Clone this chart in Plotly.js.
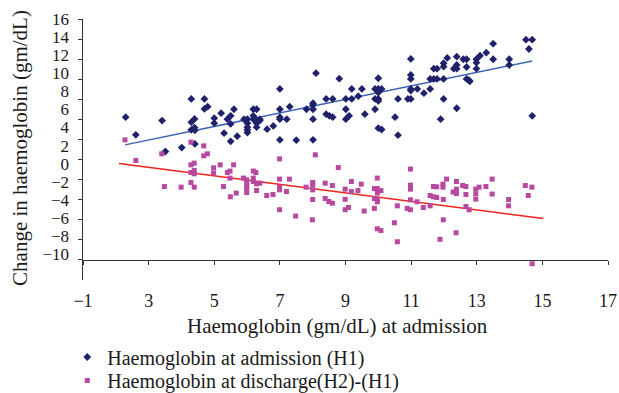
<!DOCTYPE html>
<html>
<head>
<meta charset="utf-8">
<script src="https://cdn.plot.ly/plotly-3.0.1.min.js"></script>
<style>html,body{margin:0;padding:0;background:#fff;}</style>
</head>
<body>
<div id="chart" style="width:619px;height:393px;"></div>
<script>
// Haemoglobin at admission (H1): x = Hb at admission, y = H1
const h1X = [2.30,2.61,3.41,3.51,4.01,4.30,4.30,4.30,4.40,4.40,4.41,4.41,4.70,4.70,4.80,5.00,5.00,5.21,5.30,5.40,
  5.50,5.50,5.50,5.60,5.70,5.91,6.01,6.01,6.01,6.01,6.01,6.19,6.29,6.19,6.19,6.29,6.39,6.29,6.29,6.39,
  6.61,6.80,7.00,7.00,7.00,7.00,7.00,7.21,7.30,7.50,7.81,8.01,8.01,8.01,8.01,8.01,8.10,8.41,8.41,8.51,
  8.61,8.61,8.81,9.01,9.01,9.01,9.11,9.19,9.19,9.39,9.50,9.59,9.90,9.90,9.90,10.00,10.00,10.00,10.00,10.00,
  10.00,10.10,10.10,10.51,10.60,10.60,10.90,10.99,10.99,10.99,10.99,10.99,10.99,11.19,11.39,11.58,11.58,11.69,11.69,11.79,
  11.79,11.90,11.99,11.99,11.99,11.99,12.10,12.30,12.39,12.39,12.39,12.39,12.59,12.69,12.69,12.69,12.76,12.79,12.99,12.99,
  12.99,13.10,13.29,13.50,13.50,13.99,13.99,14.50,14.69,14.59,14.69];
const h1Y = [6.22,4.46,5.88,2.80,3.19,8.04,5.72,4.96,6.05,5.18,4.91,3.56,8.04,7.04,7.27,6.12,5.62,6.62,4.63,6.02,
  6.35,5.55,3.81,7.01,4.33,6.02,6.02,5.62,5.22,4.96,4.69,7.01,7.01,6.35,6.02,5.95,6.02,5.62,5.22,5.88,
  5.02,5.35,9.03,7.01,6.22,6.02,3.96,6.02,7.27,3.93,7.01,7.61,7.44,7.01,6.02,3.96,10.60,8.04,6.52,6.35,
  8.04,6.22,10.06,8.04,7.01,6.02,6.35,9.03,8.04,8.31,9.03,6.52,9.03,8.04,7.01,10.10,9.03,8.67,8.04,7.84,
  5.12,9.03,4.99,6.22,8.04,4.43,8.04,12.02,10.43,10.03,9.03,8.87,8.04,9.03,8.61,10.03,9.03,11.05,10.03,11.05,
  10.03,6.02,11.59,11.25,10.03,8.04,12.12,11.05,12.25,11.42,11.05,7.11,11.99,11.99,11.22,10.03,9.90,9.80,11.99,11.65,
  11.05,12.35,12.65,13.54,11.99,11.99,11.42,13.94,13.94,13.01,6.35];

// Haemoglobin at discharge (H2) - (H1)
const dX = [2.28,2.61,3.40,3.48,3.99,4.29,4.29,4.29,4.29,4.39,4.39,4.39,4.39,4.68,4.68,4.79,4.98,4.98,5.18,5.28,
  5.40,5.48,5.48,5.49,5.59,5.67,5.89,5.99,5.99,5.99,5.99,5.99,6.19,6.27,6.19,6.19,6.29,6.29,6.39,6.60,
  6.79,6.99,6.99,6.99,6.99,6.99,7.20,7.29,7.48,7.80,8.00,8.00,8.00,8.00,7.99,8.08,8.38,8.38,8.49,8.60,
  8.60,8.78,8.99,8.99,8.99,9.09,9.18,9.18,9.38,9.48,9.57,9.88,9.88,9.88,9.97,9.97,9.97,9.97,9.97,9.97,
  10.08,10.08,10.49,10.58,10.58,10.88,10.98,10.98,10.98,10.98,10.98,11.18,11.37,11.58,11.58,11.68,11.78,11.68,11.78,11.88,
  11.97,11.97,11.98,11.98,12.08,12.28,12.38,12.38,12.38,12.37,12.57,12.67,12.67,12.67,12.77,12.97,12.97,12.97,13.07,13.28,
  13.47,13.47,13.97,13.97,14.48,14.57,14.68,14.69];
const dY = [3.96,1.90,2.57,-0.69,-0.75,3.73,1.47,0.71,-0.29,1.64,0.91,0.58,-0.75,3.36,2.37,2.57,1.17,0.65,1.47,-0.69,
  0.71,0.85,0.15,-1.71,1.47,-1.34,0.15,-0.02,-0.35,-0.69,-1.02,-1.29,0.85,0.71,0.15,-0.19,-0.42,-1.09,-0.35,-1.58,
  -1.48,2.07,0.05,-0.75,-1.02,-3.00,-1.19,0.05,-3.63,-0.75,-0.29,-0.55,-1.02,-1.98,-4.00,2.47,-0.35,-1.88,-2.18,-0.59,
  -2.35,1.20,-0.95,-1.96,-3.00,-2.78,-0.19,-1.19,-1.09,-0.45,-3.13,-0.89,-1.88,-2.87,0.15,-0.89,-1.34,-2.01,-2.21,-4.90,
  -1.09,-5.07,-4.30,-2.61,-6.19,-2.87,1.05,-0.55,-0.95,-2.01,-3.00,-2.21,-2.78,-1.58,-2.61,-0.69,-0.72,-1.71,-1.78,-5.95,
  -0.45,-0.75,-1.98,-4.00,0.05,-1.24,-0.19,-0.95,-1.39,-5.29,-0.59,-0.69,-1.48,-2.68,-3.00,-0.95,-1.41,-1.94,-0.75,-0.69,
  0.05,-1.44,-1.98,-2.61,-0.59,-1.58,-0.75,-8.38];

// Linear trend lines (end points)
const trendH1X = [2.28, 14.69];
const trendH1Y = [3.46, 11.82];
const trendDX = [2.10, 15.03];
const trendDY = [1.60, -3.87];

// Axis tick values and labels
const xTickVals = [1, 3, 5, 7, 9, 11, 13, 15, 17];
const xTickText = ['\u22121', '3', '5', '7', '9', '11', '13', '15', '17'];
const yTickVals = [-8, -6, -4, -2, 0, 2, 4, 6, 8, 10, 12, 14, 16];
const yLabelVals = [16, 14, 12, 10, 8, 6, 4, 2, 0, -2, -4, -6, -8, -10];
const yLabelText = yLabelVals.map(v => v < 0 ? '\u2212' + Math.abs(v) : String(v));

const seriesNames = ['Haemoglobin at admission (H1)', 'Haemoglobin at discharge(H2)-(H1)'];
const xTitle = 'Haemoglobin (gm/dL) at admission';
const yTitle = 'Change in haemoglobin (gm/dL)';

const FONT = 'Liberation Serif, Times New Roman, serif';
const TXT = '#1a1a1a';
const navy = '#20216b';
const magenta = '#b8499f';

const traces = [
  {x: trendH1X, y: trendH1Y, mode: 'lines', line: {color: '#3c62b4', width: 1.5}, showlegend: false, hoverinfo: 'skip'},
  {x: trendDX, y: trendDY, mode: 'lines', line: {color: '#f2221c', width: 1.5}, showlegend: false, hoverinfo: 'skip'},
  {x: h1X, y: h1Y, mode: 'markers', name: seriesNames[0], legend: 'legend',
   marker: {symbol: 'diamond', size: 6, color: navy}},
  {x: dX, y: dY, mode: 'markers', name: seriesNames[1], legend: 'legend2',
   marker: {symbol: 'square', size: 5, color: magenta}},
  {x: [], y: [], yaxis: 'y2', mode: 'markers', showlegend: false, hoverinfo: 'skip'}
];

const legendBase = {
  xanchor: 'left', yanchor: 'middle',
  font: {family: FONT, size: 20, color: TXT},
  bgcolor: 'rgba(0,0,0,0)', itemsizing: 'trace'
};

const layout = {
  width: 619, height: 393,
  margin: {l: 83, r: 11, t: 19, b: 113, autoexpand: false},
  paper_bgcolor: '#ffffff', plot_bgcolor: '#ffffff',
  font: {family: FONT, color: TXT, size: 17},
  showlegend: true,
  xaxis: {
    range: [1, 17], anchor: 'free', position: 0.0766, automargin: false,
    showline: true, linecolor: '#333', linewidth: 1,
    ticks: 'outside', ticklen: 4, tickcolor: '#333',
    tickvals: xTickVals, ticktext: xTickText,
    tickfont: {family: FONT, size: 18, color: TXT},
    ticklabelstandoff: 20,
    showgrid: false, zeroline: false
  },
  yaxis: {
    range: [-10, 16], domain: [0, 1], automargin: false,
    showline: true, linecolor: '#333', linewidth: 1,
    ticks: 'outside', ticklen: 4, tickcolor: '#333',
    tickvals: yTickVals, showticklabels: false,
    showgrid: false, zeroline: false
  },
  yaxis2: {
    overlaying: 'y', side: 'left', range: [-12.876, 16.01], automargin: false,
    showline: false, ticks: '', showgrid: false, zeroline: false,
    tickvals: yLabelVals, ticktext: yLabelText,
    tickfont: {family: FONT, size: 17, color: TXT},
    ticklabelstandoff: 13
  },
  annotations: [
    {text: yTitle, textangle: -90, xref: 'paper', yref: 'paper', x: -0.12, y: 0.506,
     xanchor: 'center', yanchor: 'middle', showarrow: false, font: {family: FONT, size: 21, color: TXT}},
    {text: xTitle, xref: 'paper', yref: 'paper', x: 0.484, y: -0.176,
     xanchor: 'center', yanchor: 'middle', showarrow: false, font: {family: FONT, size: 21, color: TXT}}
  ],
  legend: Object.assign({x: -0.03, y: -0.295}, legendBase),
  legend2: Object.assign({x: -0.03, y: -0.385}, legendBase)
};

Plotly.newPlot('chart', traces, layout, {displayModeBar: false, staticPlot: true});
</script>
</body>
</html>
